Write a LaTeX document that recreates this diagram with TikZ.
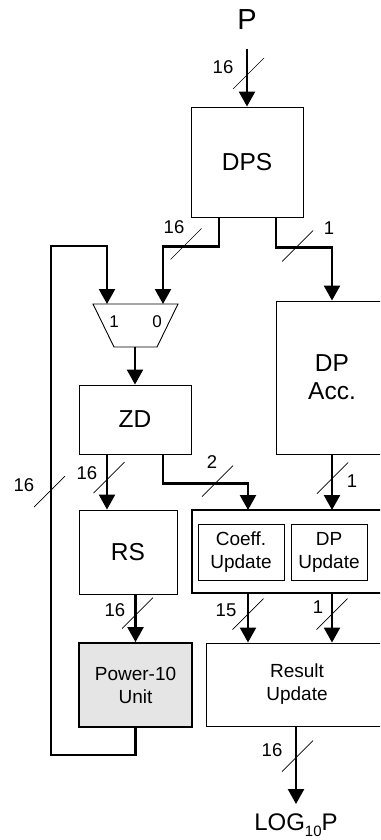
\documentclass[tikz,border=0pt]{standalone}
\usepackage{fontspec}
\setmainfont{Liberation Sans}
\usetikzlibrary{arrows.meta}

\begin{document}
\begin{tikzpicture}[x=1pt,y=-1pt,
  block/.style={draw, line width=0.9pt, inner sep=0pt, align=center,
    font=\fontsize{24.5}{28}\selectfont},
  smallblock/.style={block, font=\fontsize{19}{23}\selectfont},
  lbl/.style={inner sep=0pt, font=\fontsize{18.5}{20}\selectfont},
  wire/.style={line width=2.4pt},
  bus/.style={wire, -{Triangle[width=16pt,length=15pt]}},
  slashline/.style={line width=0.7pt}
]
\useasboundingbox (0,0) rectangle (380,840);
\clip (0,0) rectangle (380,840);

% ---- blocks ----
\node[lbl, font=\fontsize{29}{32}\selectfont] (pin) at (247,20) {P};
\coordinate (pstart) at (247,49);
\node[block, minimum width=112pt, minimum height=110pt] (dps) at (247,162) {DPS};
\node[block, minimum width=112pt, minimum height=153pt] (dpacc) at (332,377.5) {DP\\Acc.};
\node[block, minimum width=112pt, minimum height=69pt] (zd) at (135,419.5) {ZD};
\node[block, minimum width=98pt, minimum height=84pt] (rs) at (128,552) {RS};
\node[draw, line width=2.4pt, minimum width=196pt, minimum height=83pt] (grp) at (290,551.5) {};
\node[smallblock, minimum width=86pt, minimum height=56pt] (coeff) at (241,552) {Coeff.\\Update};
\node[smallblock, minimum width=76pt, minimum height=56pt] (dpupd) at (329,552) {DP\\Update};
\node[smallblock, line width=1.8pt, fill=black!10, minimum width=113pt, minimum height=84pt] (pow) at (135.5,685) {Power-10\\Unit};
\node[smallblock, minimum width=182pt, minimum height=83pt] (res) at (297,684.5) {Result\\Update};
\node[lbl, font=\fontsize{24}{26}\selectfont] (logp) at (296,825)
  {LOG\raisebox{-6pt}{\fontsize{15}{15}\selectfont 10}P};
\coordinate (outend) at (296,804);

% ---- multiplexer ----
\draw[line width=0.9pt] (93,304) -- (178,304) -- (157,347) -- (114,347) -- cycle;
\node[lbl, font=\fontsize{17}{19}\selectfont] (m1) at (114,322) {1};
\node[lbl, font=\fontsize{17}{19}\selectfont] (m0) at (157,322) {0};
\coordinate (muxin1) at (107,304);
\coordinate (muxin0) at (163,304);
\coordinate (muxout) at (135,347);

% group inputs / outputs
\coordinate (grpin1) at (248,510);
\coordinate (grpin2) at (332,510);
\coordinate (grpout1) at (248,593);
\coordinate (grpout2) at (332,593);
\coordinate (fbcorner) at (51,246);

% ---- connectors ----
\draw[bus] (pstart) -- (dps.north);
\draw[bus] ([xshift=-28pt]dps.south) -- ++(0,29) -| (muxin0);
\draw[bus] ([xshift=29pt]dps.south) -- ++(0,30) -| (dpacc.north);
\draw[bus] (muxout) -- (zd.north);
\draw[bus] ([xshift=-28pt]zd.south) -- ([xshift=-28pt]zd.south |- rs.north);
\draw[bus] ([xshift=28pt]zd.south) -- ++(0,29) -| (grpin1);
\draw[bus] (dpacc.south) -- (grpin2);
\draw[bus] (rs.south -| pow.north) -- (pow.north);
\draw[bus] (pow.south) -- ++(0,27) -| (fbcorner) -| (muxin1);
\draw[bus] (grpout1) -- (grpout1 |- res.north);
\draw[bus] (grpout2) -- (grpout2 |- res.north);
\draw[bus] (res.south -| outend) -- (outend);

% ---- bus-width slashes and labels ----
\foreach \cx/\cy in {248.5/73.5, 186/244, 297.5/246, 109/477.5, 217.5/481,
                      49.5/491.5, 332.5/478, 137.5/613, 248/614, 332/614, 297.5/756}
  \draw[slashline] (\cx-15.5,\cy+15.5) -- (\cx+15.5,\cy-15.5);

\node[lbl] (w1) at (223,67) {16};
\node[lbl] (w2) at (174,227) {16};
\node[lbl] (w3) at (329,228) {1};
\node[lbl] (w4) at (87,473) {16};
\node[lbl] (w5) at (212,462) {2};
\node[lbl] (w6) at (24,485) {16};
\node[lbl] (w7) at (352,481) {1};
\node[lbl] (w8) at (115,610) {16};
\node[lbl] (w9) at (226,610) {15};
\node[lbl] (w10) at (318,607) {1};
\node[lbl] (w11) at (272,750) {16};
\end{tikzpicture}
\end{document}
